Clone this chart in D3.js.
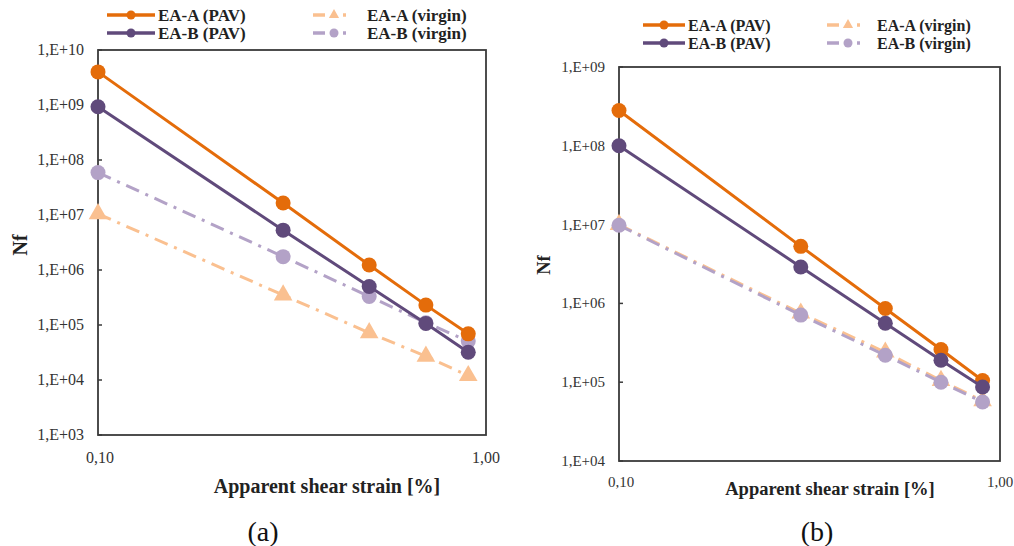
<!DOCTYPE html>
<html>
<head>
<meta charset="utf-8">
<script src="https://cdn.jsdelivr.net/npm/d3@7.9.0/dist/d3.min.js"></script>
<style>
  body { margin: 0; background: #fff; }
  svg { font-family: "Liberation Serif", "Times New Roman", serif; }
</style>
</head>
<body>
<svg id="chart" width="1014" height="546"></svg>
<script>
// strains [%]
const strain = [0.1, 0.3, 0.5, 0.7, 0.9];

// panel (a)
const a_eaA_pav = [4.0e9, 1.65e7, 1.23e6, 2.3e5, 6.9e4];
const a_eaB_pav = [9.3e8, 5.3e6, 5.0e5, 1.07e5, 3.2e4];
const a_eaA_virgin = [1.05e7, 3.5e5, 7.2e4, 2.7e4, 1.2e4];
const a_eaB_virgin = [5.9e7, 1.75e6, 3.3e5, 1.1e5, 5.1e4];

// panel (b)
const b_eaA_pav = [2.8e8, 5.3e6, 8.6e5, 2.6e5, 1.05e5];
const b_eaB_pav = [1.0e8, 2.9e6, 5.6e5, 1.9e5, 8.7e4];
const b_eaA_virgin = [1.0e7, 7.5e5, 2.4e5, 1.05e5, 5.8e4];
const b_eaB_virgin = [9.8e6, 7.1e5, 2.2e5, 1.0e5, 5.6e4];

const seriesNames = ["EA-A (PAV)", "EA-B (PAV)", "EA-A (virgin)", "EA-B (virgin)"];
const colors = ["#E46C0A", "#604A7B", "#FAC090", "#B3A2C7"];

const xTickLabels = ["0,10", "1,00"];
const fmtY = e => "1,E+" + String(e).padStart(2, "0");

const svg = d3.select("#chart");

function drawPanel(p) {
  const g = svg.append("g");
  const x = d3.scaleLog().domain([0.1, 1]).range([p.left, p.right]);
  const y = d3.scaleLog().domain([Math.pow(10, p.yMin), Math.pow(10, p.yMax)]).range([p.bottom, p.top]);

  // frame
  g.append("rect")
    .attr("x", p.left).attr("y", p.top)
    .attr("width", p.right - p.left).attr("height", p.bottom - p.top)
    .attr("fill", "none").attr("stroke", "#3a3a3a").attr("stroke-width", 1.8);

  // y ticks
  const exps = d3.range(p.yMin, p.yMax + 1);
  exps.forEach(e => {
    const yy = y(Math.pow(10, e));
    g.append("line").attr("x1", p.left).attr("x2", p.left + 4)
      .attr("y1", yy).attr("y2", yy).attr("stroke", "#3a3a3a").attr("stroke-width", 1.5);
    g.append("text").attr("x", p.left - 14).attr("y", yy + 5)
      .attr("text-anchor", "end").attr("font-size", p.tickSize).attr("fill", "#333")
      .text(fmtY(e));
  });

  // x tick labels
  [0.1, 1].forEach((v, i) => {
    g.append("text").attr("x", x(v) + (i === 0 ? 2 : 0)).attr("y", p.xTickY)
      .attr("text-anchor", "middle").attr("font-size", p.tickSize).attr("fill", "#333")
      .text(xTickLabels[i]);
  });

  // axis titles
  g.append("text").attr("x", p.xTitleX).attr("y", p.xTitleY)
    .attr("text-anchor", "middle").attr("font-size", p.titleSize).attr("font-weight", "bold")
    .attr("fill", "#222").text("Apparent shear strain [%]");
  g.append("text").attr("transform", `translate(${p.yTitleX},${p.yTitleY}) rotate(-90)`)
    .attr("text-anchor", "middle").attr("font-size", p.titleSize).attr("font-weight", "bold")
    .attr("fill", "#222").text("Nf");

  // panel label
  g.append("text").attr("x", p.labelX).attr("y", 541)
    .attr("text-anchor", "middle").attr("font-size", 28).attr("fill", "#111")
    .text(p.label);

  const line = d3.line().x(d => x(d[0])).y(d => y(d[1]));
  const styles = [
    { dash: null, marker: "circle" },
    { dash: null, marker: "circle" },
    { dash: "14,7,3,7", marker: "triangle" },
    { dash: "14,7,3,7", marker: "circle" }
  ];

  // virgin first, PAV on top
  const order = [2, 3, 0, 1];
  order.forEach(si => {
    const pts = strain.map((s, i) => [s, p.series[si][i]]);
    g.append("path").datum(pts).attr("d", line)
      .attr("fill", "none").attr("stroke", colors[si]).attr("stroke-width", 3)
      .attr("stroke-dasharray", styles[si].dash);
    pts.forEach(d => {
      if (styles[si].marker === "circle") {
        g.append("circle").attr("cx", x(d[0])).attr("cy", y(d[1])).attr("r", 7.5)
          .attr("fill", colors[si]);
      } else {
        g.append("path").attr("d", d3.symbol(d3.symbolTriangle, 150)())
          .attr("transform", `translate(${x(d[0])},${y(d[1])})`).attr("fill", colors[si]);
      }
    });
  });

  // legend
  const leg = p.legend;
  [0, 1].forEach(si => {
    const yy = leg.y + si * leg.dy;
    g.append("line").attr("x1", leg.x0).attr("x2", leg.x0 + leg.len)
      .attr("y1", yy).attr("y2", yy).attr("stroke", colors[si]).attr("stroke-width", 3.5);
    g.append("circle").attr("cx", leg.x0 + leg.len / 2).attr("cy", yy).attr("r", 4.5).attr("fill", colors[si]);
    g.append("text").attr("x", leg.x0 + leg.len + 3).attr("y", yy + 6)
      .attr("font-size", p.legendSize).attr("font-weight", "bold").attr("fill", "#222").text(seriesNames[si]);
  });
  [2, 3].forEach((si, k) => {
    const yy = leg.y + k * leg.dy;
    g.append("line").attr("x1", leg.x1).attr("x2", leg.x1 + 12)
      .attr("y1", yy).attr("y2", yy).attr("stroke", colors[si]).attr("stroke-width", 3.5);
    if (si === 2) {
      g.append("path").attr("d", d3.symbol(d3.symbolTriangle, 45)())
        .attr("transform", `translate(${leg.x1 + 21},${yy})`).attr("fill", colors[si]);
    } else {
      g.append("circle").attr("cx", leg.x1 + 21).attr("cy", yy).attr("r", 4.5).attr("fill", colors[si]);
    }
    g.append("line").attr("x1", leg.x1 + 30).attr("x2", leg.x1 + 33)
      .attr("y1", yy).attr("y2", yy).attr("stroke", colors[si]).attr("stroke-width", 3.5);
    g.append("text").attr("x", leg.x1 + leg.textOff).attr("y", yy + 6)
      .attr("font-size", p.legendSize).attr("font-weight", "bold").attr("fill", "#222").text(seriesNames[si]);
  });
}

drawPanel({
  left: 98, right: 486, top: 50, bottom: 435, yMin: 3, yMax: 10,
  series: [a_eaA_pav, a_eaB_pav, a_eaA_virgin, a_eaB_virgin],
  tickSize: 16, titleSize: 20, legendSize: 17,
  xTickY: 463, xTitleX: 327, xTitleY: 493, yTitleX: 27, yTitleY: 245,
  label: "(a)", labelX: 263,
  legend: { x0: 107, len: 48, y: 15, dy: 18, x1: 313, textOff: 54 }
});

drawPanel({
  left: 619, right: 1000, top: 67, bottom: 461, yMin: 4, yMax: 9,
  series: [b_eaA_pav, b_eaB_pav, b_eaA_virgin, b_eaB_virgin],
  tickSize: 15, titleSize: 18.5, legendSize: 16,
  xTickY: 487, xTitleX: 830, xTitleY: 495, yTitleX: 550, yTitleY: 265,
  label: "(b)", labelX: 817,
  legend: { x0: 643, len: 42, y: 25, dy: 18, x1: 827, textOff: 50 }
});
</script>
</body>
</html>
